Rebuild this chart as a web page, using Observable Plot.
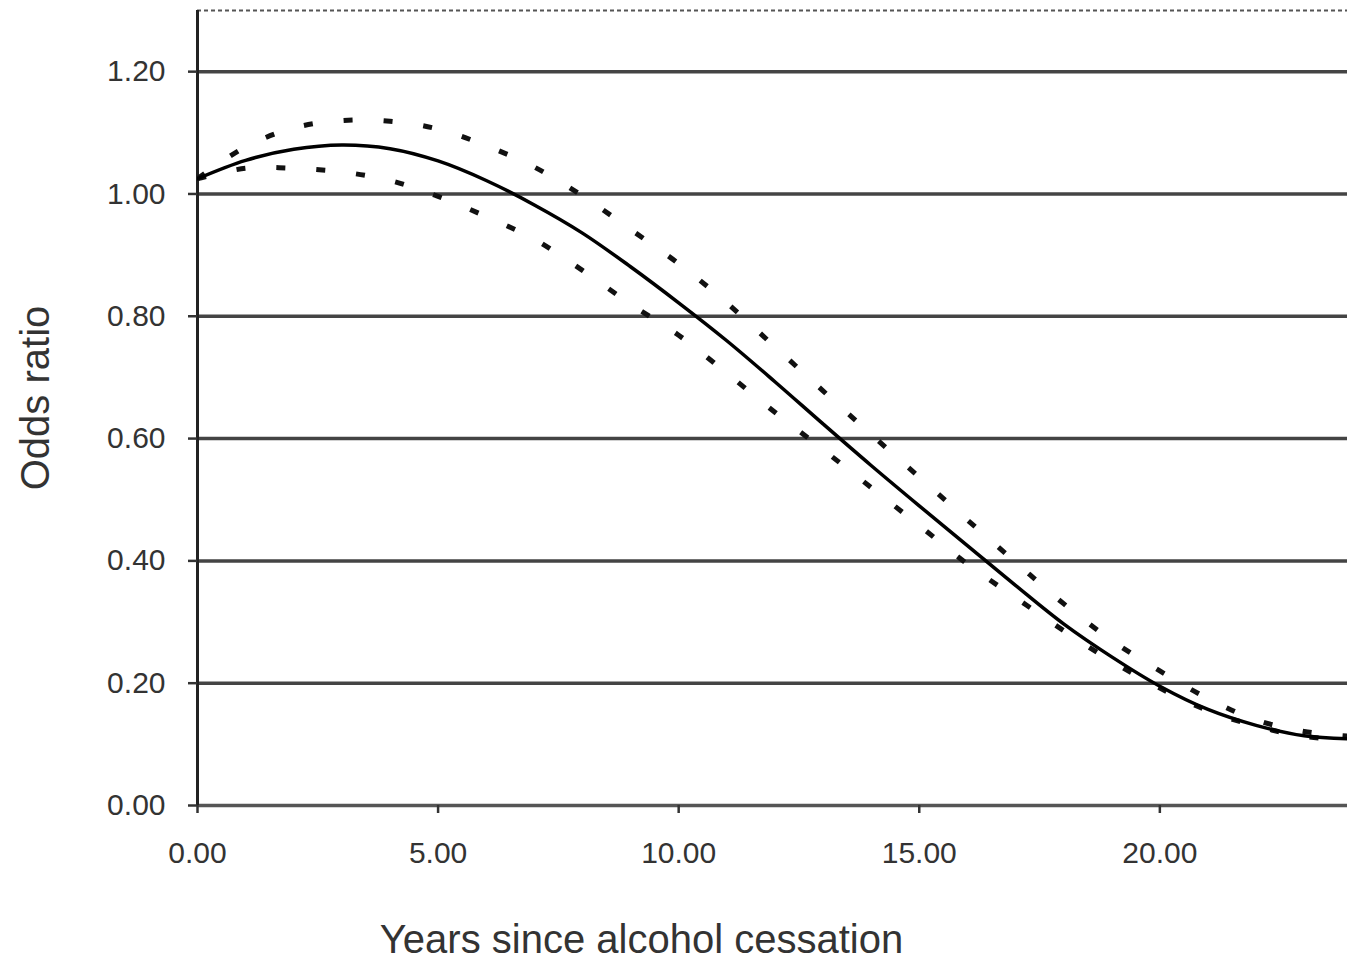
<!DOCTYPE html>
<html>
<head>
<meta charset="utf-8">
<script src="https://cdn.jsdelivr.net/npm/d3@7"></script>
<script src="https://cdn.jsdelivr.net/npm/@observablehq/plot@0.6"></script>
<style>
  html, body { margin: 0; padding: 0; background: #ffffff; }
  #chart { width: 1347px; height: 960px; }
</style>
</head>
<body>
<div id="chart"></div>
<script>
// Years since alcohol cessation
const years = [0,1,2,3,4,5,6,7,8,9,10,11,12,13,14,15,16,17,18,19,20,21,22,23,24];
// Odds ratio estimate (solid line)
const estimate = [1.025,1.055,1.073,1.080,1.074,1.054,1.022,0.982,0.936,0.881,0.822,0.760,0.693,0.624,0.556,0.490,0.425,0.360,0.297,0.243,0.195,0.157,0.131,0.114,0.109];
// Upper confidence limit (dotted)
const upper = [1.025,1.077,1.108,1.120,1.119,1.106,1.079,1.044,0.997,0.942,0.886,0.822,0.750,0.678,0.607,0.537,0.467,0.398,0.330,0.270,0.220,0.175,0.140,0.121,0.113];
// Lower confidence limit (dotted)
const lower = [1.025,1.042,1.042,1.036,1.022,0.996,0.963,0.926,0.875,0.820,0.769,0.707,0.643,0.582,0.520,0.458,0.395,0.340,0.286,0.236,0.192,0.155,0.130,0.113,0.107];

const xTicks = [0,5,10,15,20];
const yTicks = [0,0.2,0.4,0.6,0.8,1.0,1.2];
const xLabel = "Years since alcohol cessation";
const yLabel = "Odds ratio";

const rows = years.map((x, i) => ({x, est: estimate[i], up: upper[i], lo: lower[i]}));

const fmt = d3.format(".2f");

const chart = Plot.plot({
  width: 1347,
  height: 960,
  marginLeft: 197,
  marginRight: 0,
  marginTop: 10,
  marginBottom: 155,
  style: {fontFamily: "'Liberation Sans', Arial, sans-serif", fontSize: "30px", color: "#333", background: "#ffffff"},
  x: {domain: [0, 23.9], axis: null},
  y: {domain: [0, 1.3], axis: null},
  marks: [
    Plot.ruleY(yTicks.filter(d => d > 0), {stroke: "#444", strokeWidth: 3.5}),
    Plot.ruleY([1.3], {stroke: "#555", strokeWidth: 2, strokeDasharray: "4,3"}),
    Plot.ruleY([0], {stroke: "#555", strokeWidth: 3.5}),
    Plot.ruleX([0], {y1: 0, y2: 1.3, stroke: "#222", strokeWidth: 3}),
    Plot.axisY({ticks: yTicks, tickFormat: fmt, tickSize: 9, tickPadding: 23, fontSize: 30, stroke: "#333", strokeWidth: 2.5, label: null}),
    Plot.axisX({ticks: xTicks, tickFormat: fmt, tickSize: 8, tickPadding: 28, fontSize: 30, stroke: "#333", strokeWidth: 2.5, label: null}),
    Plot.line(rows, {x: "x", y: "up", curve: "catmull-rom", stroke: "#111", strokeWidth: 5, strokeDasharray: "9,31", strokeLinecap: "butt", clip: true}),
    Plot.line(rows, {x: "x", y: "lo", curve: "catmull-rom", stroke: "#111", strokeWidth: 5, strokeDasharray: "9,31", strokeLinecap: "butt", clip: true}),
    Plot.line(rows, {x: "x", y: "est", curve: "catmull-rom", stroke: "#000", strokeWidth: 3.5, clip: true}),
    Plot.text([xLabel], {frameAnchor: "bottom", text: d => d, fontSize: 40, fill: "#333", textAnchor: "middle", lineAnchor: "bottom", dx: -131, dy: 147}),
    Plot.text([yLabel], {frameAnchor: "left", text: d => d, fontSize: 40, fill: "#333", textAnchor: "middle", lineAnchor: "middle", rotate: -90, dx: -161, dy: -10})
  ]
});

document.getElementById("chart").appendChild(chart);
</script>
</body>
</html>
